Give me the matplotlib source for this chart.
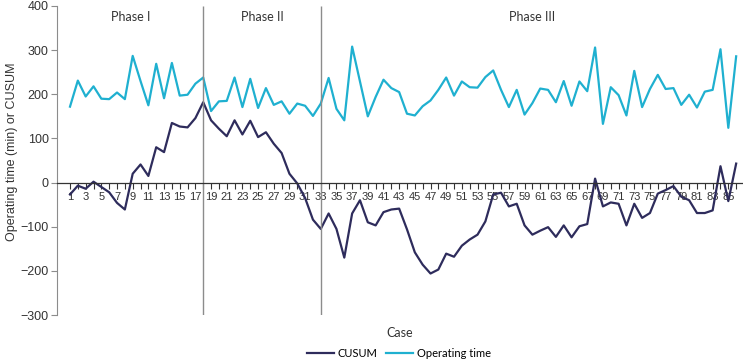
import numpy as np
import matplotlib.pyplot as plt

# data
cases = list(range(1, 87))
operating_time = [172, 231, 195, 218, 190, 189, 204, 189, 287, 230,
                  175, 269, 191, 271, 197, 199, 224, 238, 162, 184,
                  185, 238, 171, 235, 169, 214, 176, 184, 156, 179,
                  174, 151, 179, 237, 167, 141, 308, 229, 150, 194,
                  233, 214, 205, 156, 152, 173, 186, 210, 238, 197,
                  229, 216, 215, 239, 254, 210, 171, 210, 154, 180,
                  213, 210, 182, 230, 174, 229, 207, 306, 133, 216,
                  198, 152, 253, 171, 212, 244, 212, 214, 176, 199,
                  170, 206, 210, 302, 124, 286]
cusum = [-27, -7, -14, 2, -10, -22, -46, -61, 20, 41,
         15, 80, 69, 135, 127, 125, 146, 182, 141, 122,
         105, 141, 109, 140, 103, 114, 88, 67, 20, -2,
         -35, -84, -105, -70, -105, -170, -70, -40, -90, -97,
         -67, -61, -59, -106, -158, -186, -206, -197, -161, -168,
         -143, -129, -118, -88, -27, -23, -54, -48, -97, -118,
         -109, -101, -123, -97, -124, -99, -94, 9, -54, -45,
         -48, -97, -48, -80, -69, -25, -17, -8, -32, -40,
         -69, -69, -63, 37, -42, 43]
phase_breaks = [18, 33]
phase_names = ['Phase I', 'Phase II', 'Phase III']
phase_centers = [8.8, 25.5, 60.0]
y_ticks = [-300, -200, -100, 0, 100, 200, 300, 400]

# Plot setup
fig = plt.figure(figsize=(7.43, 3.61), dpi=100)
ax = fig.add_axes([0.0767, 0.1274, 0.922, 0.856])

# spines first: set_position resets the tick objects
for s in ['top', 'right']:
    ax.spines[s].set_visible(False)
ax.spines['bottom'].set_position(('data', 0))
ax.spines['bottom'].set_color('#333333')
ax.spines['bottom'].set_linewidth(0.9)
ax.spines['left'].set_color('#8c8c8c')

ax.plot(cases, cusum, color='#2e2c5c', lw=1.6, label='CUSUM')
ax.plot(cases, operating_time, color='#1fb0d0', lw=1.6, label='Operating time')

ax.vlines(phase_breaks, -300, 400, color='#8c8c8c', lw=1)
for name, xc in zip(phase_names, phase_centers):
    ax.text(xc, 375, name, ha='center', va='center', fontsize=9,
            family='Lato', color='#333333')

ax.set_xlim(-0.66, 86.75)
ax.set_ylim(-300, 400)
ax.set_yticks(y_ticks)
ax.set_yticklabels([str(t).replace('-', '\u2212') for t in y_ticks])
ax.set_xticks(cases)
ax.set_xticklabels([str(c) if c % 2 else '' for c in cases])
ax.tick_params(axis='y', length=4, color='#8c8c8c', pad=2, labelsize=9,
               labelcolor='#333333', labelfontfamily='Liberation Sans')
ax.tick_params(axis='x', length=4, color='#333333', pad=3, labelsize=8,
               labelcolor='#333333', labelfontfamily='Liberation Sans')

fig.text(0.016, 0.58, 'Operating time (min) or CUSUM', rotation=90,
         ha='center', va='center', fontsize=9, family='Liberation Sans',
         color='#333333')
fig.text(0.538, 0.078, 'Case', ha='center', va='center', fontsize=9,
         family='Lato', color='#333333')

fig.legend(loc='center', bbox_to_anchor=(0.537, 0.022), ncol=2,
           frameon=False, handlelength=2.4, columnspacing=0.8,
           handletextpad=0.35, prop={'family': 'Lato', 'size': 8})

fig.savefig('out.png', dpi=100)
